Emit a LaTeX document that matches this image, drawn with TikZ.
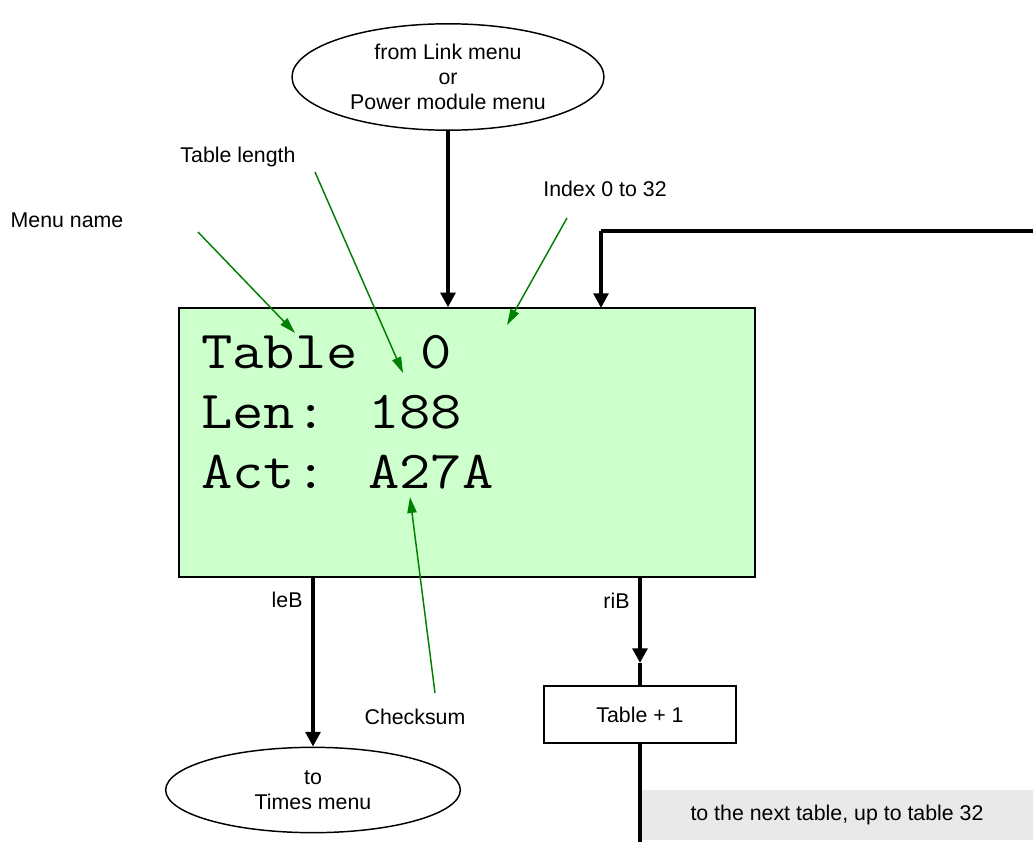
\documentclass[tikz,border=0pt]{standalone}
\usepackage{fontspec}
\usepackage{graphicx}
\setmainfont{Liberation Sans}
\usetikzlibrary{arrows.meta,shapes.geometric}
\tikzset{
  flow/.style={line width=3pt, -{Triangle[length=11pt,width=11pt]}},
  note/.style={draw=green!50!black, line width=1.1pt, -{Triangle[length=12pt,width=7pt]}},
  menuoval/.style={draw, ellipse, line width=1.1pt, align=center, font=\fontsize{16}{19}\selectfont},
  lcdline/.style={anchor=base west, inner sep=0pt, font=\ttfamily\fontsize{40}{45}\selectfont}
}
\newcommand\lcdtext[1]{\scalebox{1.14}[1]{#1}}
\begin{document}
\begin{tikzpicture}[x=0.75pt, y=-0.75pt, font=\fontsize{16}{19}\selectfont]
	\useasboundingbox (0,0) rectangle (1033,842);
	% menus in and out
	\node[menuoval, minimum width=234pt, minimum height=75pt] (from) at (448,77) {from Link menu\\or\\Power module menu};
	\node[menuoval, minimum width=221pt, minimum height=64pt] (times) at (313,790) {to\\Times menu};
	% display
	\node[draw, line width=1.1pt, fill={rgb,255:red,204;green,255;blue,204}, minimum width=432pt, minimum height=201.75pt] (lcd) at (467,442.5) {};
	\node[lcdline] (lcdA) at (201,368) {\lcdtext{Table\ \ 0}};
	\node[lcdline] (lcdB) at (201,428) {\lcdtext{Len: 188}};
	\node[lcdline] (lcdC) at (201,488) {\lcdtext{Act: A27A}};
	% step box and note
	\node[draw, line width=1.1pt, minimum width=144pt, minimum height=42.75pt] (next) at (640,714.5) {Table + 1};
	\node[fill=gray!17, minimum width=294pt, minimum height=37.5pt] (more) at (837,815) {to the next table, up to table 32};
	% labels
	\node (lname) at (67,220) {Menu name};
	\node (llen) at (238,157) {Table length};
	\node (lidx) at (605,189) {Index 0 to 32};
	\node (lsum) at (415,717) {Checksum};
	% flow
	\coordinate (loopR) at (1033,231);
	\coordinate (loopIn) at (601,308);
	\coordinate (riTip) at (640,663);
	\coordinate (bot) at (640,842);
	\draw[flow] (from.south) -- (from.south |- lcd.north);
	\draw[line width=3pt] (loopR) -- (loopIn |- loopR);
	\draw[flow] (loopIn |- loopR) -- (loopIn);
	\draw[flow] (lcd.south -| times.north) -- node[pos=.13, left=3pt]{leB} (times.north);
	\draw[flow] (lcd.south -| next.north) -- node[pos=.27, left=3pt]{riB} (riTip);
	\draw[line width=3pt] (riTip) -- (next.north);
	\draw[line width=3pt] (next.south) -- (bot);
	% notes
	\coordinate (nA0) at (198,232); \coordinate (nA1) at (295,333);
	\coordinate (nB0) at (315,172); \coordinate (nB1) at (403,373);
	\coordinate (nC0) at (567,218); \coordinate (nC1) at (507,325);
	\coordinate (nD0) at (435,693); \coordinate (nD1) at (410,497);
	\draw[note] (nA0) -- (nA1);
	\draw[note] (nB0) -- (nB1);
	\draw[note] (nC0) -- (nC1);
	\draw[note] (nD0) -- (nD1);
\end{tikzpicture}
\end{document}
